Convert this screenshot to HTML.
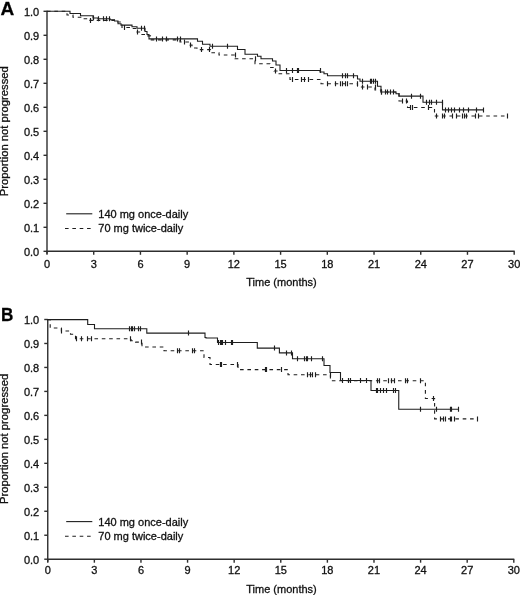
<!DOCTYPE html>
<html><head><meta charset="utf-8"><style>
html,body{margin:0;padding:0;background:#fff;}
svg{display:block;will-change:transform;}
.ax{stroke:#2e2e2e;stroke-width:1.4;fill:none;}
.cv{stroke:#1e1e1e;stroke-width:1.1;fill:none;}
.tkm{stroke:#1e1e1e;stroke-width:1.15;fill:none;}
.dash{stroke-dasharray:3.6 3.75;}
text{font-family:"Liberation Sans",sans-serif;fill:#111;stroke:#111;stroke-width:0.3px;}
.tk{font-size:11px;}
.tt{font-size:11px;}
.yl{font-size:11.25px;}
.lg{font-size:11px;}
.pl{font-size:19px;font-weight:bold;fill:#000;}
</style></head><body>
<svg width="520" height="595" viewBox="0 0 520 595">
<line x1="47.0" y1="10.8" x2="47.0" y2="253.8" class="ax"/>
<line x1="46.5" y1="251.3" x2="514.69" y2="251.3" class="ax"/>
<line x1="43.5" y1="251.30" x2="47.0" y2="251.30" class="ax"/>
<text x="39.2" y="256.10" class="tk" text-anchor="end">0.0</text>
<line x1="43.5" y1="227.30" x2="47.0" y2="227.30" class="ax"/>
<text x="39.2" y="232.10" class="tk" text-anchor="end">0.1</text>
<line x1="43.5" y1="203.30" x2="47.0" y2="203.30" class="ax"/>
<text x="39.2" y="208.10" class="tk" text-anchor="end">0.2</text>
<line x1="43.5" y1="179.30" x2="47.0" y2="179.30" class="ax"/>
<text x="39.2" y="184.10" class="tk" text-anchor="end">0.3</text>
<line x1="43.5" y1="155.30" x2="47.0" y2="155.30" class="ax"/>
<text x="39.2" y="160.10" class="tk" text-anchor="end">0.4</text>
<line x1="43.5" y1="131.30" x2="47.0" y2="131.30" class="ax"/>
<text x="39.2" y="136.10" class="tk" text-anchor="end">0.5</text>
<line x1="43.5" y1="107.30" x2="47.0" y2="107.30" class="ax"/>
<text x="39.2" y="112.10" class="tk" text-anchor="end">0.6</text>
<line x1="43.5" y1="83.30" x2="47.0" y2="83.30" class="ax"/>
<text x="39.2" y="88.10" class="tk" text-anchor="end">0.7</text>
<line x1="43.5" y1="59.30" x2="47.0" y2="59.30" class="ax"/>
<text x="39.2" y="64.10" class="tk" text-anchor="end">0.8</text>
<line x1="43.5" y1="35.30" x2="47.0" y2="35.30" class="ax"/>
<text x="39.2" y="40.10" class="tk" text-anchor="end">0.9</text>
<line x1="43.5" y1="11.30" x2="47.0" y2="11.30" class="ax"/>
<text x="39.2" y="16.10" class="tk" text-anchor="end">1.0</text>
<line x1="47.00" y1="251.3" x2="47.00" y2="254.8" class="ax"/>
<text x="47.00" y="268.0" class="tk" text-anchor="middle">0</text>
<line x1="93.72" y1="251.3" x2="93.72" y2="254.8" class="ax"/>
<text x="93.72" y="268.0" class="tk" text-anchor="middle">3</text>
<line x1="140.44" y1="251.3" x2="140.44" y2="254.8" class="ax"/>
<text x="140.44" y="268.0" class="tk" text-anchor="middle">6</text>
<line x1="187.16" y1="251.3" x2="187.16" y2="254.8" class="ax"/>
<text x="187.16" y="268.0" class="tk" text-anchor="middle">9</text>
<line x1="233.88" y1="251.3" x2="233.88" y2="254.8" class="ax"/>
<text x="233.88" y="268.0" class="tk" text-anchor="middle">12</text>
<line x1="280.60" y1="251.3" x2="280.60" y2="254.8" class="ax"/>
<text x="280.60" y="268.0" class="tk" text-anchor="middle">15</text>
<line x1="327.31" y1="251.3" x2="327.31" y2="254.8" class="ax"/>
<text x="327.31" y="268.0" class="tk" text-anchor="middle">18</text>
<line x1="374.03" y1="251.3" x2="374.03" y2="254.8" class="ax"/>
<text x="374.03" y="268.0" class="tk" text-anchor="middle">21</text>
<line x1="420.75" y1="251.3" x2="420.75" y2="254.8" class="ax"/>
<text x="420.75" y="268.0" class="tk" text-anchor="middle">24</text>
<line x1="467.47" y1="251.3" x2="467.47" y2="254.8" class="ax"/>
<text x="467.47" y="268.0" class="tk" text-anchor="middle">27</text>
<line x1="514.19" y1="251.3" x2="514.19" y2="254.8" class="ax"/>
<text x="514.19" y="268.0" class="tk" text-anchor="middle">30</text>
<text x="281.5" y="285.9" class="tt" text-anchor="middle">Time (months)</text>
<text transform="translate(8.1,131.2) rotate(-90)" class="yl" text-anchor="middle">Proportion not progressed</text>
<text x="0.6" y="14.7" class="pl">A</text>
<line x1="66.2" y1="213.8" x2="92.3" y2="213.8" class="cv"/>
<line x1="65" y1="228.5" x2="91.4" y2="228.5" class="cv dash"/>
<text x="98.3" y="217.7" class="lg">140 mg once-daily</text>
<text x="98.3" y="232.3" class="lg">70 mg twice-daily</text>
<path d="M47,11.3 H70 V13.5 H80.5 V15.8 H93 V18 H98 V18.8 H110 V19.7 H114.5 V21 H118 V23.7 H121 V25.1 H132 V26.8 H137 V28.2 H145 V31.5 H147 V34.5 H149 V38.9 H197.5 V41.2 H202.5 V44.2 H210 V46.25 H237.5 V49.5 H245 V54.25 H257.5 V56.25 H261 V58.75 H272.5 V61 H276 V65 H280 V70.5 H320 V72 H324 V73.75 H327.5 V75.75 H357.5 V79 H360 V81.25 H377.5 V86.25 H381 V92 H396 V93.75 H399 V96.15 H423 V102.3 H442.5 V109.9 H484" class="cv"/>
<path d="M47,11.3 H67 V15 H73 V17.3 H82 V18.8 H88 V20.4 H115 V22 H122 V27.5 H130 V28.5 H137 V32 H141 V34.5 H145.5 V35.9 H150.5 V39.9 H180 V42 H190 V45 H192 V48 H197 V49.6 H210.5 V52.7 H219 V55 H235 V58.75 H255 V63.75 H270 V67.5 H274 V71 H277 V73.75 H290 V79.5 H321 V83.75 H357.5 V87 H375 V90 H381 V92 H399 V101 H407.5 V107.5 H434.5 V116 H507.5" class="cv dash"/>
<path d="M93.5,15.50V20.50M98.5,16.30V21.30M103.5,16.30V21.30M106.5,16.30V21.30M109.5,16.30V21.30M141.5,25.70V30.70M144.5,25.70V30.70M156.5,36.40V41.40M162.5,36.40V41.40M166.5,36.40V41.40M177.5,36.40V41.40M180.5,36.40V41.40M212.5,43.75V48.75M227.5,43.75V48.75M286.5,68.00V73.00M292.5,68.00V73.00M298.5,68.00V73.00M297.5,68.00V73.00M320.5,68.00V73.00M342.5,73.25V78.25M345.5,73.25V78.25M347.5,73.25V78.25M353.5,73.25V78.25M362.5,78.75V83.75M370.5,78.75V83.75M371.5,78.75V83.75M373.5,78.75V83.75M375.5,78.75V83.75M381.5,89.50V94.50M385.5,89.50V94.50M387.5,89.50V94.50M390.5,89.50V94.50M393.5,89.50V94.50M411.5,93.65V98.65M420.5,93.65V98.65M426.5,99.80V104.80M429.5,99.80V104.80M431.5,99.80V104.80M436.5,99.80V104.80M442.5,99.80V104.80M445.5,107.40V112.40M448.5,107.40V112.40M451.5,107.40V112.40M454.5,107.40V112.40M459.5,107.40V112.40M463.5,107.40V112.40M468.5,107.40V112.40M476.5,107.40V112.40M483.5,107.40V112.40" class="tkm"/>
<path d="M90.5,17.90V22.90M124.5,25.00V30.00M137.5,29.50V34.50M184.5,39.50V44.50M190.5,42.50V47.50M201.5,47.10V52.10M209.5,47.10V52.10M235.5,52.50V57.50M255.5,56.25V61.25M275.5,68.50V73.50M292.5,77.00V82.00M301.5,77.00V82.00M304.5,77.00V82.00M308.5,77.00V82.00M327.5,81.25V86.25M335.5,81.25V86.25M340.5,81.25V86.25M342.5,81.25V86.25M345.5,81.25V86.25M347.5,81.25V86.25M357.5,81.25V86.25M362.5,84.50V89.50M367.5,84.50V89.50M375.5,84.50V89.50M381.5,89.50V94.50M402.5,98.50V103.50M406.5,98.50V103.50M410.5,105.00V110.00M412.5,105.00V110.00M428.5,105.00V110.00M436.5,113.50V118.50M442.5,113.50V118.50M444.5,113.50V118.50M452.5,113.50V118.50M456.5,113.50V118.50M462.5,113.50V118.50M464.5,113.50V118.50M466.5,113.50V118.50M475.5,113.50V118.50M478.5,113.50V118.50M507.5,113.50V118.50" class="tkm"/>
<line x1="47.75" y1="319.0" x2="47.75" y2="561.7" class="ax"/>
<line x1="47.25" y1="559.2" x2="514.3" y2="559.2" class="ax"/>
<line x1="44.25" y1="559.20" x2="47.75" y2="559.20" class="ax"/>
<text x="39.2" y="563.50" class="tk" text-anchor="end">0.0</text>
<line x1="44.25" y1="535.23" x2="47.75" y2="535.23" class="ax"/>
<text x="39.2" y="539.53" class="tk" text-anchor="end">0.1</text>
<line x1="44.25" y1="511.26" x2="47.75" y2="511.26" class="ax"/>
<text x="39.2" y="515.56" class="tk" text-anchor="end">0.2</text>
<line x1="44.25" y1="487.29" x2="47.75" y2="487.29" class="ax"/>
<text x="39.2" y="491.59" class="tk" text-anchor="end">0.3</text>
<line x1="44.25" y1="463.32" x2="47.75" y2="463.32" class="ax"/>
<text x="39.2" y="467.62" class="tk" text-anchor="end">0.4</text>
<line x1="44.25" y1="439.35" x2="47.75" y2="439.35" class="ax"/>
<text x="39.2" y="443.65" class="tk" text-anchor="end">0.5</text>
<line x1="44.25" y1="415.38" x2="47.75" y2="415.38" class="ax"/>
<text x="39.2" y="419.68" class="tk" text-anchor="end">0.6</text>
<line x1="44.25" y1="391.41" x2="47.75" y2="391.41" class="ax"/>
<text x="39.2" y="395.71" class="tk" text-anchor="end">0.7</text>
<line x1="44.25" y1="367.44" x2="47.75" y2="367.44" class="ax"/>
<text x="39.2" y="371.74" class="tk" text-anchor="end">0.8</text>
<line x1="44.25" y1="343.47" x2="47.75" y2="343.47" class="ax"/>
<text x="39.2" y="347.77" class="tk" text-anchor="end">0.9</text>
<line x1="44.25" y1="319.50" x2="47.75" y2="319.50" class="ax"/>
<text x="39.2" y="323.80" class="tk" text-anchor="end">1.0</text>
<line x1="47.75" y1="559.2" x2="47.75" y2="562.7" class="ax"/>
<text x="47.75" y="574.3" class="tk" text-anchor="middle">0</text>
<line x1="94.36" y1="559.2" x2="94.36" y2="562.7" class="ax"/>
<text x="94.36" y="574.3" class="tk" text-anchor="middle">3</text>
<line x1="140.96" y1="559.2" x2="140.96" y2="562.7" class="ax"/>
<text x="140.96" y="574.3" class="tk" text-anchor="middle">6</text>
<line x1="187.56" y1="559.2" x2="187.56" y2="562.7" class="ax"/>
<text x="187.56" y="574.3" class="tk" text-anchor="middle">9</text>
<line x1="234.17" y1="559.2" x2="234.17" y2="562.7" class="ax"/>
<text x="234.17" y="574.3" class="tk" text-anchor="middle">12</text>
<line x1="280.77" y1="559.2" x2="280.77" y2="562.7" class="ax"/>
<text x="280.77" y="574.3" class="tk" text-anchor="middle">15</text>
<line x1="327.38" y1="559.2" x2="327.38" y2="562.7" class="ax"/>
<text x="327.38" y="574.3" class="tk" text-anchor="middle">18</text>
<line x1="373.99" y1="559.2" x2="373.99" y2="562.7" class="ax"/>
<text x="373.99" y="574.3" class="tk" text-anchor="middle">21</text>
<line x1="420.59" y1="559.2" x2="420.59" y2="562.7" class="ax"/>
<text x="420.59" y="574.3" class="tk" text-anchor="middle">24</text>
<line x1="467.19" y1="559.2" x2="467.19" y2="562.7" class="ax"/>
<text x="467.19" y="574.3" class="tk" text-anchor="middle">27</text>
<line x1="513.80" y1="559.2" x2="513.80" y2="562.7" class="ax"/>
<text x="513.80" y="574.3" class="tk" text-anchor="middle">30</text>
<text x="281.5" y="592.8" class="tt" text-anchor="middle">Time (months)</text>
<text transform="translate(8.1,438.9) rotate(-90)" class="yl" text-anchor="middle">Proportion not progressed</text>
<text transform="translate(0.9,320.6) scale(0.92,1)" class="pl" style="font-size:18.6px">B</text>
<line x1="66.2" y1="521.6" x2="92.3" y2="521.6" class="cv"/>
<line x1="65" y1="536.3" x2="91.4" y2="536.3" class="cv dash"/>
<text x="98.3" y="525.5" class="lg">140 mg once-daily</text>
<text x="98.3" y="540.1" class="lg">70 mg twice-daily</text>
<path d="M47.5,319.6 H87.7 V324.5 H94.5 V328.8 H146.8 V333.1 H205 V337.5 H206 V338 H217.5 V342.5 H257.3 V348.1 H279.4 V352.9 H292.5 V358.7 H324 V365.5 H330 V372.5 H340.5 V380.5 H371 V390.5 H398.75 V409.2 H459" class="cv"/>
<path d="M47.5,319.6 H50.2 V328 H61.4 V331 H70.5 V334.3 H75.5 V338.8 H131 V340.8 H135.6 V342.1 H142 V347 H164 V350.8 H204 V357.5 H210 V364.5 H238 V369.6 H288 V374.8 H330.4 V380.7 H425.4 V398.5 H434.6 V418.9 H477.7" class="cv dash"/>
<path d="M129.5,326.30V331.30M131.5,326.30V331.30M132.5,326.30V331.30M134.5,326.30V331.30M138.5,326.30V331.30M140.5,326.30V331.30M188.5,330.60V335.60M218.5,340.00V345.00M220.5,340.00V345.00M221.5,340.00V345.00M222.5,340.00V345.00M225.5,340.00V345.00M231.5,340.00V345.00M232.5,340.00V345.00M274.5,345.60V350.60M286.5,350.40V355.40M291.5,350.40V355.40M297.5,356.20V361.20M304.5,356.20V361.20M306.5,356.20V361.20M307.5,356.20V361.20M311.5,356.20V361.20M322.5,356.20V361.20M342.5,378.00V383.00M348.5,378.00V383.00M350.5,378.00V383.00M360.5,378.00V383.00M366.5,378.00V383.00M376.5,388.00V393.00M377.5,388.00V393.00M380.5,388.00V393.00M383.5,388.00V393.00M386.5,388.00V393.00M393.5,388.00V393.00M395.5,388.00V393.00M420.5,406.70V411.70M436.5,406.70V411.70M450.5,406.70V411.70M451.5,406.70V411.70M458.5,406.70V411.70" class="tkm"/>
<path d="M61.5,328.50V333.50M76.5,336.30V341.30M81.5,336.30V341.30M87.5,336.30V341.30M91.5,336.30V341.30M130.5,336.30V341.30M141.5,339.60V344.60M177.5,348.30V353.30M179.5,348.30V353.30M192.5,348.30V353.30M194.5,348.30V353.30M220.5,362.00V367.00M221.5,362.00V367.00M237.5,362.00V367.00M265.5,367.10V372.10M266.5,367.10V372.10M281.5,367.10V372.10M307.5,372.30V377.30M310.5,372.30V377.30M312.5,372.30V377.30M315.5,372.30V377.30M330.5,372.30V377.30M377.5,378.20V383.20M379.5,378.20V383.20M388.5,378.20V383.20M391.5,378.20V383.20M394.5,378.20V383.20M405.5,378.20V383.20M407.5,378.20V383.20M420.5,378.20V383.20M433.5,396.00V401.00M440.5,416.40V421.40M443.5,416.40V421.40M445.5,416.40V421.40M450.5,416.40V421.40M451.5,416.40V421.40M454.5,416.40V421.40M477.5,416.40V421.40" class="tkm"/>
</svg>
</body></html>
